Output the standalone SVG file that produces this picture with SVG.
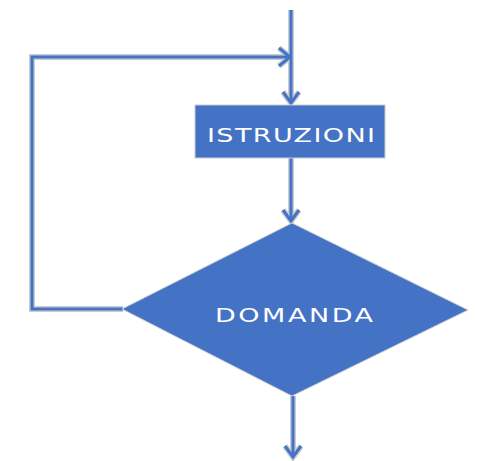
<svg xmlns="http://www.w3.org/2000/svg" width="477" height="461" viewBox="0 0 477 461">
  <style>
    .halo { fill: none; stroke: #c9ccd3; stroke-width: 6; stroke-linejoin: miter; stroke-linecap: butt; }
    .wire { fill: none; stroke: #4472c4; stroke-width: 3; stroke-linejoin: miter; stroke-linecap: butt; }
    .shape { fill: #4472c4; stroke: #c9ccd3; stroke-width: 1; }
    .label { fill: #ffffff; font-family: "DejaVu Sans", "Liberation Sans", sans-serif; font-size: 20px; }
  </style>
  <defs>
    <!-- all connector strokes, drawn twice: a pale halo below and the blue line on top -->
    <g id="wires">
      <path d="M291,10 V103"/>
      <path d="M279,48 L290,57 L279,66"/>
      <path d="M283,92 L291,103 L299,92"/>
      <path d="M291,158 V221"/>
      <path d="M283,210 L291,221 L299,210"/>
      <path d="M123,309 H32 V57 H290"/>
      <path d="M293,396 V457"/>
      <path d="M285,446 L293,457 L301,446"/>
    </g>
  </defs>
  <rect width="477" height="461" fill="#ffffff"/>
  <g id="connectors">
    <use href="#wires" class="halo"/>
    <use href="#wires" class="wire"/>
  </g>
  <g id="istruzioni">
    <rect class="shape" x="195" y="105" width="190" height="53"/>
    <!-- wide lettering: glyphs stretched horizontally -->
    <text class="label" transform="translate(207,142) scale(1.35,1)" textLength="124.5" lengthAdjust="spacing">ISTRUZIONI</text>
  </g>
  <g id="domanda">
    <polygon class="shape" points="292,223 468,310 292,396 122,309"/>
    <text class="label" transform="translate(215,322) scale(1.35,1)" textLength="117" lengthAdjust="spacing">DOMANDA</text>
  </g>
</svg>
